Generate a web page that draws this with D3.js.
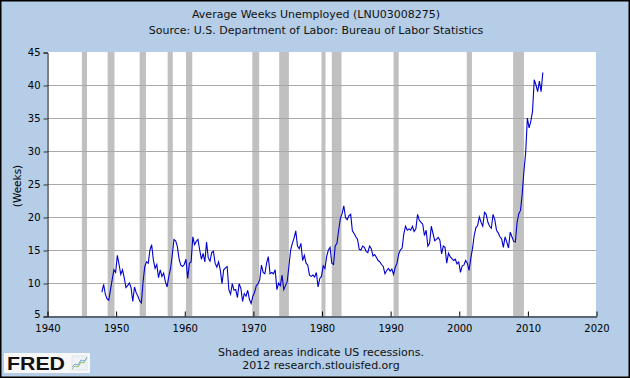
<!DOCTYPE html>
<html>
<head>
<meta charset="utf-8">
<script src="https://cdn.jsdelivr.net/npm/d3@7/dist/d3.min.js"></script>
<style>
  html, body { margin: 0; padding: 0; background: #b5cde6; }
  svg { display: block; font-family: "DejaVu Sans", Verdana, sans-serif; }
</style>
</head>
<body>
<svg id="chart" width="630" height="378"></svg>
<script>
// ---- Data ----
const titleText = "Average Weeks Unemployed (LNU03008275)";
const subtitleText = "Source: U.S. Department of Labor: Bureau of Labor Statistics";
const yAxisLabel = "(Weeks)";
const footerLines = ["Shaded areas indicate US recessions.", "2012 research.stlouisfed.org"];

const xTicks = [1940, 1950, 1960, 1970, 1980, 1990, 2000, 2010, 2020];
const yTicks = [5, 10, 15, 20, 25, 30, 35, 40, 45];

const recessionStart = [1945.083, 1948.833, 1953.5, 1957.583, 1960.25, 1969.917, 1973.833, 1980.0, 1981.5, 1990.5, 2001.167, 2007.917];
const recessionEnd   = [1945.833, 1949.833, 1954.417, 1958.333, 1961.167, 1970.917, 1975.25, 1980.583, 1982.917, 1991.25, 2001.917, 2009.5];

// quarterly readings, series starts 1948 Q1
const seriesStart = 1948;
const w1940s = [8.6, 9.8, 8.3, 7.6, 7.4, 9.0, 10.5, 12.0];
const w1950s = [11.6,14.2,12.8,11.3, 12.0,10.8,9.3,9.6, 10.0,9.3,7.2,9.4, 8.5,8.0,7.3,7.0, 10.2,12.5,13.2,13.0,
                15.0,15.8,13.5,12.2, 12.8,10.8,12.0,11.0, 11.5,10.2,9.4,11.0, 12.2,14.2,16.6,16.4, 15.5,13.6,12.7,12.5];
const w1960s = [12.8,13.6,10.7,13.0, 13.2,17.0,15.8,16.3, 16.6,15.0,13.6,14.5, 13.2,16.2,13.8,13.3, 14.6,14.8,13.0,12.4,
                13.2,12.0,9.9,12.0, 12.3,12.5,9.0,8.3, 9.9,8.9,9.0,7.8, 9.9,9.2,7.2,8.4, 8.0,8.9,7.5,6.9];
const w1970s = [8.0,8.6,9.6,9.9, 10.5,12.7,11.6,11.4, 13.0,14.0,11.4,11.6, 11.4,12.0,9.0,10.0, 9.6,11.2,9.0,9.6,
                10.2,12.5,15.0,16.0, 16.8,17.9,15.6,15.2, 16.0,13.4,14.2,13.0, 12.7,11.2,11.0,11.2, 10.9,11.6,9.4,10.7];
const w1980s = [11.0,12.6,12.2,14.0, 15.0,15.4,13.0,12.8, 15.6,16.0,18.0,19.8, 20.5,21.7,19.9,19.6, 20.2,20.4,17.9,17.5,
                17.0,16.6,15.1,15.0, 15.6,15.4,14.8,14.6, 15.6,15.2,14.1,14.3, 13.9,13.4,13.2,12.8, 12.5,11.4,11.9,12.2];
const w1990s = [11.8,12.1,11.3,12.4, 13.0,14.4,15.0,15.3, 17.5,18.6,18.0,18.2, 18.0,18.6,17.8,18.2, 20.4,19.5,19.2,18.9,
                17.2,18.0,15.6,16.0, 18.6,17.5,16.4,16.6, 16.9,16.5,14.4,15.6, 15.4,13.0,14.5,14.0, 13.7,13.4,13.6,12.9];
const w2000s = [13.2,11.6,12.6,12.7, 13.4,13.0,11.9,13.7, 15.2,17.2,18.4,18.7, 20.0,19.2,18.6,20.7, 20.4,19.2,18.6,18.3,
                20.4,19.6,18.0,17.6, 17.0,16.7,15.4,17.0, 16.2,15.3,17.7,17.0, 16.3,16.2,19.2,20.5, 21.0,23.5,27.0,29.7];
const w2010s = [35.0,33.5,34.5,36.0, 40.8,40.0,39.0,40.6, 39.0,41.9];

// ---- Build ----
const allValues = [].concat(w1940s, w1950s, w1960s, w1970s, w1980s, w1990s, w2000s, w2010s);
const series = allValues.map((v, i) => ({ t: seriesStart + i * 0.25, v: v }));
const recessions = recessionStart.map((s, i) => ({ s: s, e: recessionEnd[i] }));

const W = 630, H = 378;
const m = { left: 47, right: 34, top: 52, bottom: 62 };
const svg = d3.select("#chart");

svg.append("rect").attr("x", 0).attr("y", 0).attr("width", W).attr("height", H).attr("fill", "#b5cde6");

const x = d3.scaleLinear().domain([1940, 2020]).range([m.left, W - m.right]);
const y = d3.scaleLinear().domain([5, 45]).range([H - m.bottom, m.top]);

// plot background
svg.append("rect")
  .attr("x", x(1940)).attr("y", y(45))
  .attr("width", x(2020) - x(1940)).attr("height", y(5) - y(45))
  .attr("fill", "#ffffff");

// recession bars
svg.append("g").selectAll("rect").data(recessions).join("rect")
  .attr("x", d => x(d.s))
  .attr("y", y(45))
  .attr("width", d => Math.max(2, x(d.e) - x(d.s)))
  .attr("height", y(5) - y(45))
  .attr("fill", "#c0c0c0");

// gridlines
svg.append("g").selectAll("line").data(yTicks.filter(t => t > 5 && t < 45)).join("line")
  .attr("x1", x(1940)).attr("x2", x(2020))
  .attr("y1", d => Math.round(y(d)) + 0.5).attr("y2", d => Math.round(y(d)) + 0.5)
  .attr("stroke", "#a9a9a9").attr("stroke-width", 1);

// line
const line = d3.line().x(d => x(d.t)).y(d => y(d.v));
svg.append("path").datum(series)
  .attr("d", line)
  .attr("fill", "none")
  .attr("stroke", "#0000cc")
  .attr("stroke-width", 1.1)
  .attr("stroke-linejoin", "miter");

// y axis
const yAxis = d3.axisLeft(y).tickValues(yTicks).tickSize(4).tickPadding(3).tickFormat(d3.format("d"));
const gy = svg.append("g").attr("transform", `translate(${x(1940) + 0.5},0.5)`).call(yAxis);
gy.select(".domain").attr("stroke", "#000");
gy.selectAll(".tick line").attr("stroke", "#333");
gy.selectAll("text").attr("font-size", 10).attr("fill", "#000").attr("font-family", "DejaVu Sans");
gy.selectAll(".tick").filter(d => d === 5).select("text").attr("dy", "0.1em");

// x axis (ticks pointing up into plot)
const xAxis = d3.axisBottom(x).tickValues(xTicks).tickSizeInner(-5).tickSizeOuter(0).tickPadding(8).tickFormat(d3.format("d"));
const gx = svg.append("g").attr("transform", `translate(0.5,${y(5) + 0.5})`).call(xAxis);
gx.select(".domain").attr("stroke", "#000");
gx.selectAll(".tick line").attr("stroke", "#000");
gx.selectAll("text").attr("font-size", 10).attr("fill", "#000").attr("font-family", "DejaVu Sans").attr("dy", "0.71em");

// y axis label
svg.append("text")
  .attr("transform", `translate(21,${(y(5) + y(45)) / 2 + 2}) rotate(-90)`)
  .attr("text-anchor", "middle")
  .attr("font-size", 10.5)
  .attr("fill", "#000")
  .text(yAxisLabel);

// titles
svg.append("text").attr("x", 316).attr("y", 18).attr("text-anchor", "middle")
  .attr("font-size", 11).attr("fill", "#111").text(titleText);
svg.append("text").attr("x", 316).attr("y", 34).attr("text-anchor", "middle")
  .attr("font-size", 11).attr("fill", "#111").text(subtitleText);

// footer
svg.append("text").attr("x", 321).attr("y", 356).attr("text-anchor", "middle")
  .attr("font-size", 11).attr("fill", "#111").text(footerLines[0]);
svg.append("text").attr("x", 321).attr("y", 369).attr("text-anchor", "middle")
  .attr("font-size", 11).attr("fill", "#111").text(footerLines[1]);

// FRED logo
const logo = svg.append("g");
logo.append("rect").attr("x", 4).attr("y", 353).attr("width", 86).attr("height", 20).attr("fill", "#f7f7f7");
logo.append("text").attr("x", 7).attr("y", 370).attr("font-size", 18).attr("font-weight", "bold")
  .attr("font-family", "Liberation Sans, Arial, sans-serif")
  .attr("textLength", 58).attr("lengthAdjust", "spacingAndGlyphs")
  .attr("fill", "#111").text("FRED");
logo.append("rect").attr("x", 72).attr("y", 356).attr("width", 15).attr("height", 14)
  .attr("fill", "#eef2f6").attr("stroke", "#c8d4e0").attr("stroke-width", 0.5);
logo.append("path").attr("d", "M72,369 L75,366 L78,367 L81,362 L84,363 L87,357")
  .attr("fill", "none").attr("stroke", "#8fbf6a").attr("stroke-width", 1);
logo.append("path").attr("d", "M72,367 L75,364 L78,365 L81,360 L84,361 L87,358")
  .attr("fill", "none").attr("stroke", "#7fa7d6").attr("stroke-width", 1);

// outer frame
svg.append("rect").attr("x", 0.75).attr("y", 0.75).attr("width", W - 1.5).attr("height", H - 1.5)
  .attr("fill", "none").attr("stroke", "#000").attr("stroke-width", 1.5);
</script>
</body>
</html>
